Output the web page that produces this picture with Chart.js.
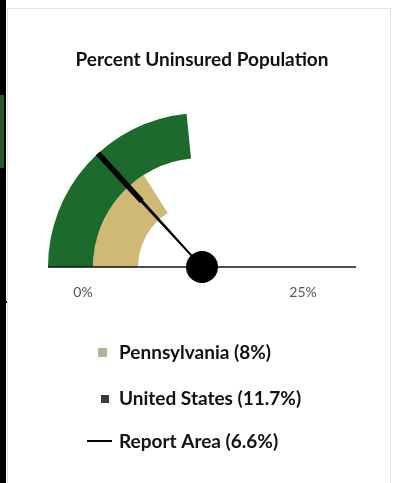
<!DOCTYPE html>
<html lang="en">
<head>
  <meta charset="UTF-8">
  <title>Percent Uninsured Population</title>
  <style>
    html, body { margin: 0; padding: 0; background: #fff; }
    body { width: 395px; height: 483px; position: relative; overflow: hidden; }
    .edge { position: absolute; left: 0; top: 0; width: 6px; height: 483px; background: #000; }
    .edge-green { position: absolute; left: 0; top: 95px; width: 4px; height: 73px; background: #2b5b2d; }
    .tick { position: absolute; left: 0; top: 301px; width: 8px; height: 2px; background: #000; }
    .card { position: absolute; left: 7px; top: 8px; width: 384px; height: 480px; border: 1px solid #e4e4e4; box-sizing: border-box; }
    #gauge { position: absolute; left: 0; top: 0; }
  </style>
</head>
<body>
  <div class="edge"></div>
  <div class="edge-green"></div>
  <div class="tick"></div>
  <div class="card"></div>
  <canvas id="gauge" width="395" height="483"></canvas>

  <script src="https://cdn.jsdelivr.net/npm/chart.js"></script>
  <script>
    // gauge scale
    const scaleMin = 0;
    const scaleMax = 25;
    const tickLabels = ['0%', '25%'];

    // rings, outer first
    const ringNames = ['United States', 'Pennsylvania'];
    const ringValues = [11.7, 8];
    const ringColors = ['#1d6b2c', '#cfb974'];

    // needle
    const needleName = 'Report Area';
    const needleValue = 6.6;

    // legend (order as in the picture)
    const legendNames = ['Pennsylvania', 'United States', 'Report Area'];
    const legendValues = [8, 11.7, 6.6];
    const legendColors = ['#b4b596', '#3a3a3a', '#000000'];
    const legendKinds = ['box', 'box', 'line'];

    const datasets = ringValues.map((v, i) => ({
      label: ringNames[i],
      data: [v - scaleMin, scaleMax - v],
      backgroundColor: [ringColors[i], 'rgba(0,0,0,0)'],
      borderWidth: 0
    }));

    const gaugeExtras = {
      id: 'gaugeExtras',
      afterDatasetsDraw(chart) {
        const arc = chart.getDatasetMeta(0).data[0];
        const cx = arc.x, cy = arc.y, R = arc.outerRadius;
        const ctx = chart.ctx;
        ctx.save();

        // baseline
        ctx.strokeStyle = '#111';
        ctx.lineWidth = 1.5;
        ctx.beginPath();
        ctx.moveTo(cx - R, cy);
        ctx.lineTo(cx + R, cy);
        ctx.stroke();

        // tick labels
        ctx.fillStyle = '#555';
        ctx.font = '14px Lato';
        ctx.textAlign = 'center';
        ctx.textBaseline = 'middle';
        ctx.fillText(tickLabels[0], cx - R + 35, cy + 25);
        ctx.fillText(tickLabels[1], cx + R - 53, cy + 25);

        // needle (tapered)
        const a = Math.PI + (needleValue - scaleMin) / (scaleMax - scaleMin) * Math.PI;
        const ux = Math.cos(a), uy = Math.sin(a);
        const nx = -uy, ny = ux;
        const pt = (r, w) => [cx + ux * r + nx * w, cy + uy * r + ny * w];
        const poly = [pt(R, 2.8), pt(R * 0.58, 2.6), pt(R * 0.58, 1.5), pt(0, 0.9),
                      pt(0, -0.9), pt(R * 0.58, -1.5), pt(R * 0.58, -2.6), pt(R, -2.8)];
        ctx.fillStyle = '#000';
        ctx.beginPath();
        poly.forEach((p, i) => i ? ctx.lineTo(p[0], p[1]) : ctx.moveTo(p[0], p[1]));
        ctx.closePath();
        ctx.fill();

        // hub
        ctx.beginPath();
        ctx.arc(cx, cy, 16, 0, Math.PI * 2);
        ctx.fill();

        // legend
        const rows = [353, 399, 442];
        ctx.font = 'bold 19px Lato';
        ctx.textAlign = 'left';
        legendNames.forEach((name, i) => {
          const y = rows[i];
          ctx.fillStyle = legendColors[i];
          if (legendKinds[i] === 'line') {
            ctx.fillRect(87, y - 2, 25, 2);
          } else if (i === 0) {
            ctx.fillRect(98, y - 5, 9, 9);
          } else {
            ctx.fillRect(101, y - 4, 8, 8);
          }
          ctx.fillStyle = '#111';
          ctx.fillText(name + ' (' + legendValues[i] + '%)', 119, y);
        });

        ctx.restore();
      }
    };

    new Chart(document.getElementById('gauge'), {
      type: 'doughnut',
      data: { labels: ['value', 'rest'], datasets: datasets },
      options: {
        responsive: false,
        animation: false,
        events: [],
        rotation: -90,
        circumference: 180,
        cutout: '41.5%',
        layout: { padding: { left: 48, right: 39, top: 8, bottom: 216 } },
        plugins: {
          legend: { display: false },
          tooltip: { enabled: false },
          title: {
            display: true,
            text: 'Percent Uninsured Population',
            color: '#111',
            font: { family: 'Lato', size: 19, weight: 'bold', lineHeight: 1.2 },
            padding: { top: 40.6, bottom: 41.6 }
          }
        }
      },
      plugins: [gaugeExtras]
    });
  </script>
</body>
</html>
